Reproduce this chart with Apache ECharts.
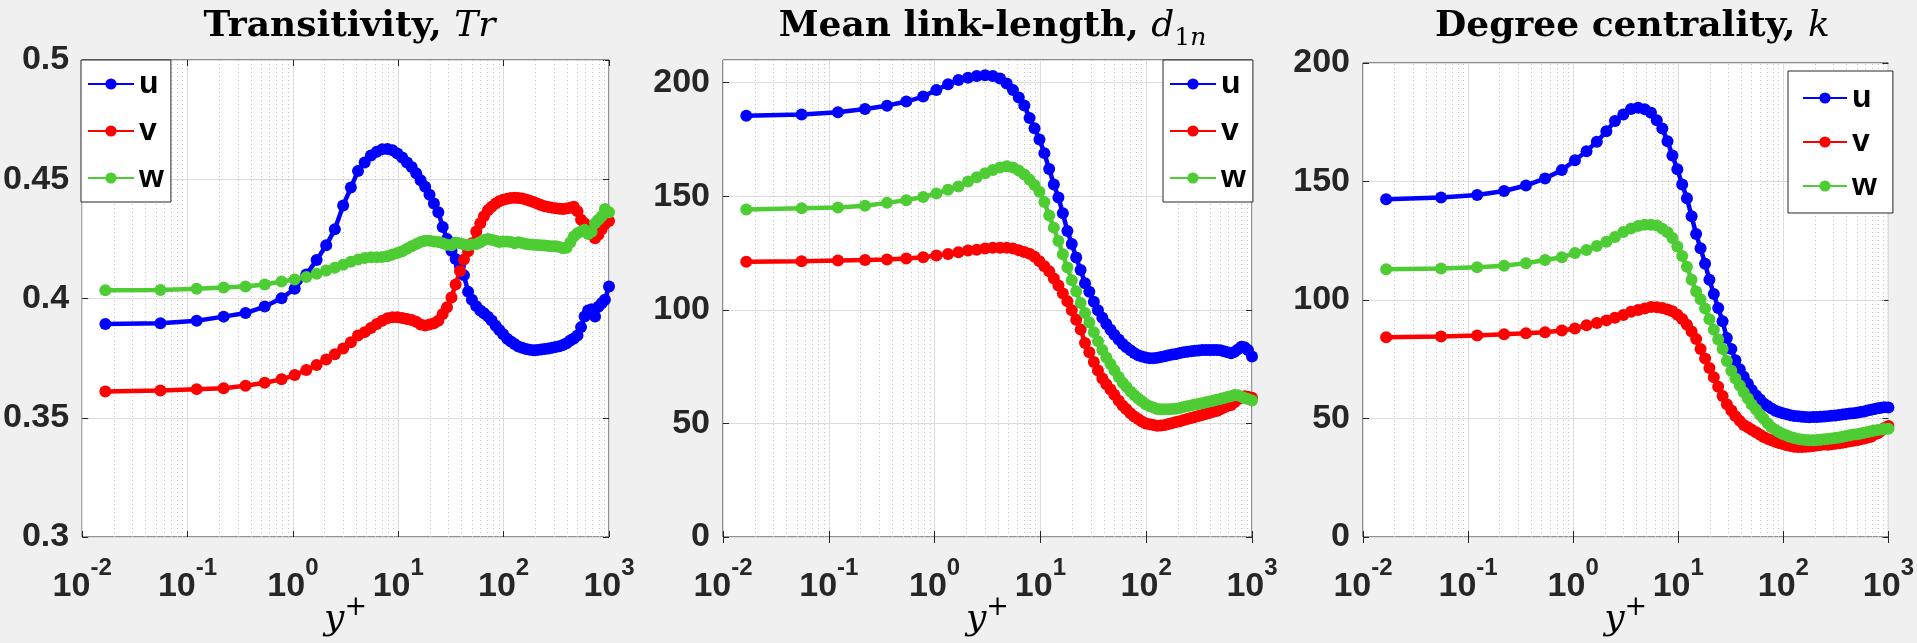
<!DOCTYPE html>
<html>
<head>
<meta charset="utf-8">
<script src="https://cdn.jsdelivr.net/npm/echarts@6/dist/echarts.min.js"></script>
<style>
html, body { margin: 0; padding: 0; background: #f0f0f0; }
#chart { width: 1917px; height: 643px; }
</style>
</head>
<body>
<div id="chart"></div>
<script>
// wall distance y+ (same grid for every panel)
const yPlus = [0.0166, 0.0553, 0.122, 0.22, 0.355, 0.54, 0.78, 1.04, 1.34, 1.68,
    2.07, 2.5, 3.0, 3.55, 4.15, 4.8, 5.5, 6.25, 7.05, 7.9,
    8.8, 9.8, 10.9, 12.1, 13.4, 14.8, 16.3, 18, 19.8, 21.8,
    24, 26.4, 29, 32, 35, 38.5, 42, 46, 50, 55,
    60, 65, 71, 77, 84, 91, 99, 108, 117, 127,
    138, 150, 163, 177, 192, 208, 226, 245, 266, 288,
    312, 338, 366, 396, 429, 464, 502, 543, 587, 634,
    684, 737, 793, 852, 915, 1000];

// Transitivity, Tr
const trU = [.3893, .3896, .3907, .3924, .3939, .3966, .4001, .4041, .4101, .4161,
    .4223, .4290, .4390, .4465, .4535, .4570, .4600, .4615, .4626, .4627,
    .4622, .4608, .4591, .4570, .4551, .4525, .4496, .4469, .4435, .4398,
    .4362, .4300, .4250, .4200, .4166, .4136, .4098, .4028, .3995, .3968,
    .3950, .3938, .3924, .3908, .3886, .3868, .3850, .3831, .3820, .3809,
    .3799, .3793, .3788, .3785, .3783, .3784, .3786, .3788, .3790, .3793,
    .3797, .3800, .3805, .3812, .3824, .3832, .3845, .3880, .3925, .3950,
    .3955, .3925, .3965, .3980, .3995, .4050];
const trV = [.3610, .3614, .3620, .3624, .3634, .3647, .3661, .3679, .3700, .3721,
    .3744, .3766, .3790, .3817, .3845, .3859, .3876, .3893, .3907, .3917,
    .3921, .3921, .3918, .3914, .3910, .3903, .3891, .3887, .3891, .3896,
    .3907, .3935, .3963, .4004, .4059, .4115, .4163, .4198, .4232, .4281,
    .4315, .4345, .4370, .4385, .4398, .4408, .4414, .4418, .4421, .4422,
    .4421, .4419, .4415, .4410, .4405, .4398, .4392, .4387, .4384, .4381,
    .4378, .4376, .4375, .4377, .4380, .4385, .4366, .4330, .4315, .4288,
    .4270, .4253, .4267, .4290, .4312, .4325];
const trW = [.4035, .4036, .4041, .4046, .4050, .4059, .4071, .4080, .4090, .4104,
    .4117, .4129, .4142, .4154, .4163, .4170, .4173, .4173, .4174, .4177,
    .4184, .4191, .4198, .4209, .4219, .4228, .4237, .4242, .4242, .4239,
    .4237, .4232, .4225, .4223, .4235, .4232, .4226, .4223, .4226, .4229,
    .4236, .4245, .4250, .4246, .4242, .4237, .4239, .4239, .4237, .4232,
    .4236, .4233, .4228, .4226, .4225, .4224, .4223, .4222, .4220, .4219,
    .4219, .4216, .4211, .4213, .4235, .4260, .4274, .4281, .4288, .4270,
    .4280, .4315, .4330, .4345, .4375, .4362];

// Mean link-length, d1n
const dU = [185.5, 186.0, 187.0, 188.4, 189.9, 191.7, 193.9, 196.8, 199.3, 201.2,
    202.2, 203.0, 203.3, 203.0, 201.9, 199.7, 196.8, 193.5, 190.0, 184.5,
    180.0, 175.0, 169.0, 162.0, 155.2, 149.5, 142.5, 134.7, 129.0, 123.0,
    117.5, 111.7, 108.0, 103.6, 99.8, 96.5, 93.8, 91.2, 89.0, 87.0,
    85.0, 83.5, 82.2, 81.0, 80.0, 79.5, 79.0, 78.7, 78.7, 78.9,
    79.2, 79.6, 80.0, 80.3, 80.6, 81.0, 81.3, 81.6, 81.8, 82.0,
    82.1, 82.3, 82.3, 82.3, 82.3, 82.3, 82.2, 81.8, 81.3, 80.9,
    81.5, 82.6, 83.8, 83.5, 82.3, 79.5];
const dV = [121.2, 121.4, 121.7, 121.9, 122.2, 122.6, 123.2, 123.9, 124.6, 125.4,
    126.1, 126.5, 127.0, 127.3, 127.3, 127.3, 127.0, 126.2, 125.5, 124.7,
    123.4, 121.4, 119.2, 117.0, 113.8, 110.7, 107.2, 103.8, 99.8, 95.6,
    91.3, 85.4, 81.3, 77.0, 73.3, 69.8, 67.2, 64.9, 62.6, 60.0,
    57.8, 56.2, 54.5, 53.1, 51.9, 50.9, 50.0, 49.6, 49.3, 49.0,
    49.1, 49.3, 49.8, 50.2, 50.6, 51.0, 51.5, 52.0, 52.4, 52.8,
    53.3, 53.7, 54.2, 54.6, 55.1, 55.5, 56.2, 57.0, 57.7, 58.1,
    59.3, 60.6, 61.5, 62.0, 61.8, 61.3];
const dW = [144.2, 144.7, 145.1, 145.8, 147.1, 148.3, 149.7, 151.2, 152.9, 154.3,
    156.5, 158.4, 160.1, 161.6, 162.7, 163.2, 162.7, 161.3, 159.6, 157.3,
    155.0, 152.0, 147.5, 141.5, 136.2, 130.3, 124.5, 118.6, 113.0, 108.2,
    103.0, 98.6, 94.4, 90.1, 86.2, 82.3, 79.0, 76.2, 73.4, 70.4,
    67.9, 66.1, 64.1, 62.5, 61.0, 59.8, 58.4, 57.6, 57.0, 56.4,
    56.2, 56.2, 56.2, 56.3, 56.5, 56.8, 57.2, 57.6, 57.9, 58.3,
    58.6, 58.9, 59.3, 59.6, 60.0, 60.4, 60.8, 61.2, 61.6, 62.0,
    62.5, 62.4, 61.8, 61.2, 60.7, 60.1];

// Degree centrality, k
const kU = [142.5, 143.2, 144.3, 146.0, 148.3, 151.3, 154.8, 159.0, 162.8, 166.8,
    171.2, 175.5, 178.3, 180.6, 181.1, 180.5, 179.0, 175.8, 172.4, 167.0,
    161.0, 155.2, 148.7, 142.9, 135.3, 127.8, 121.8, 115.3, 108.5, 102.5,
    96.6, 91.0, 84.0, 79.3, 74.6, 70.8, 67.6, 64.7, 62.0, 59.7,
    58.0, 56.3, 55.3, 54.2, 53.3, 52.7, 52.2, 51.8, 51.4, 51.1,
    50.9, 50.7, 50.6, 50.5, 50.6, 50.6, 50.7, 50.8, 51.0, 51.2,
    51.3, 51.5, 51.7, 51.9, 52.1, 52.2, 52.4, 52.7, 53.0, 53.4,
    53.7, 54.0, 54.3, 54.5, 54.7, 54.6];
const kV = [84.3, 84.6, 85.0, 85.5, 86.0, 86.4, 87.1, 88.0, 89.3, 90.3,
    91.4, 92.5, 93.7, 95.0, 95.8, 96.4, 97.0, 96.9, 96.6, 96.0,
    95.3, 93.8, 92.0, 89.6, 86.7, 83.5, 79.3, 75.3, 71.3, 67.4,
    63.4, 59.5, 56.0, 53.4, 51.0, 49.0, 47.3, 46.3, 45.3, 44.2,
    43.1, 42.2, 41.4, 40.8, 40.2, 39.7, 39.2, 38.7, 38.4, 38.1,
    38.0, 38.0, 38.1, 38.2, 38.4, 38.6, 38.8, 39.0, 38.9, 39.1,
    39.3, 39.6, 39.8, 40.1, 40.4, 40.6, 40.8, 41.2, 41.6, 42.0,
    42.3, 43.2, 43.8, 44.8, 46.0, 46.8];
const kW = [113.0, 113.3, 113.8, 114.5, 115.5, 116.9, 118.0, 119.8, 121.1, 122.8,
    124.6, 126.6, 128.7, 130.2, 131.2, 131.8, 131.7, 131.4, 130.1, 128.6,
    126.2, 122.6, 118.6, 114.0, 108.5, 103.6, 100.3, 96.4, 91.9, 87.4,
    83.3, 79.3, 74.3, 70.1, 66.9, 63.9, 61.1, 58.4, 55.9, 53.8,
    51.6, 49.9, 47.9, 46.3, 45.2, 44.3, 43.5, 42.8, 42.2, 41.8,
    41.4, 41.1, 40.9, 40.8, 40.8, 40.9, 41.0, 41.2, 41.4, 41.6,
    41.8, 42.0, 42.3, 42.6, 42.9, 43.2, 43.4, 43.7, 44.0, 44.3,
    44.6, 44.9, 45.2, 45.4, 45.6, 45.7];

const seriesNames = ['u', 'v', 'w'];
const seriesColors = ['#0000ff', '#ff0000', '#4dcc33'];
const panelData = [[trU, trV, trW], [dU, dV, dW], [kU, kV, kW]];
const yRanges = [[0.3, 0.5, 0.05], [0, 210, 50], [0, 200, 50]];
const titleTexts = [
    '{b|Transitivity, }{i|Tr}',
    '{b|Mean link-length, }{i|d}{s|1}{si|n}',
    '{b|Degree centrality, }{i|k}'
];

// minor log grid lines 2..9 x 10^n
const minorX = [];
for (let e = -2; e < 3; e++) {
    for (let k = 2; k < 10; k++) {
        minorX.push(+(k * Math.pow(10, e)).toPrecision(3));
    }
}

const grids = [
    { left: 80, top: 60, width: 529, height: 482 },
    { left: 723, top: 60, width: 529, height: 480 },
    { left: 1363, top: 63, width: 529, height: 480 }
];
const legendPos = [
    { left: 81, top: 60, padding: [8, 7, 8, 6], itemGap: 15, itemWidth: 46 },
    { left: 1163, top: 60, padding: [8, 7, 8, 6], itemGap: 15, itemWidth: 46 },
    { left: 1788, top: 71, padding: [11, 16, 11, 14], itemGap: 12, itemWidth: 44 }
];

const axisColor = '#262626';
const sans = 'Liberation Sans';
const serif = 'DejaVu Serif';

const chart = echarts.init(document.getElementById('chart'));

const xAxes = [];
const yAxes = [];
grids.forEach((g, i) => {
    xAxes.push({
        type: 'log',
        logBase: 10,
        gridIndex: i,
        min: 0.01,
        max: 1000,
        axisLine: { show: false },
        axisTick: { show: true, inside: true, length: 6, lineStyle: { color: axisColor } },
        splitLine: { show: true, lineStyle: { color: '#dcdcdc', width: 1 } },
        axisLabel: {
            margin: 19,
            showMinLabel: true,
            showMaxLabel: true,
            formatter: (v) => '{m|10}{e|' + Math.round(Math.log10(v)) + '}',
            rich: {
                m: { fontFamily: sans, fontWeight: 'bold', fontSize: 34, color: axisColor, lineHeight: 48, verticalAlign: 'bottom' },
                e: { fontFamily: sans, fontWeight: 'bold', fontSize: 24, color: axisColor, lineHeight: 20, verticalAlign: 'top' }
            }
        },
        name: '{y|y}{p|+}',
        nameLocation: 'middle',
        nameGap: 57,
        nameMoveOverlap: false,
        nameTextStyle: {
            rich: {
                y: { fontFamily: serif, fontStyle: 'italic', fontSize: 36, color: '#000', lineHeight: 44, verticalAlign: 'bottom' },
                p: { fontFamily: serif, fontSize: 27, color: '#000', lineHeight: 22, verticalAlign: 'top' }
            }
        }
    });
    const r = yRanges[i];
    yAxes.push({
        type: 'value',
        gridIndex: i,
        min: r[0],
        max: r[1],
        interval: r[2],
        axisLine: { show: false },
        axisTick: { show: true, inside: true, length: 6, lineStyle: { color: axisColor } },
        splitLine: { show: true, lineStyle: { color: '#dcdcdc', width: 1 } },
        axisLabel: {
            margin: 13,
            showMaxLabel: i !== 1,
            fontFamily: sans,
            fontWeight: 'bold',
            fontSize: 34,
            color: axisColor
        }
    });
});
// top / right edges of the box carry ticks too
grids.forEach((g, i) => {
    xAxes.push({
        type: 'log', logBase: 10, gridIndex: i, position: 'top', min: 0.01, max: 1000,
        axisLine: { show: false }, axisLabel: { show: false }, splitLine: { show: false },
        axisTick: { show: true, inside: true, length: 6, lineStyle: { color: axisColor } }
    });
    const r = yRanges[i];
    yAxes.push({
        type: 'value', gridIndex: i, position: 'right', min: r[0], max: r[1], interval: r[2],
        axisLine: { show: false }, axisLabel: { show: false }, splitLine: { show: false },
        axisTick: { show: true, inside: true, length: 6, lineStyle: { color: axisColor } }
    });
});

const series = [];
panelData.forEach((vals, gi) => {
    vals.forEach((arr, si) => {
        const s = {
            name: seriesNames[si],
            type: 'line',
            xAxisIndex: gi,
            yAxisIndex: gi,
            data: yPlus.map((x, j) => [x, arr[j]]),
            symbol: 'circle',
            symbolSize: 12,
            lineStyle: { color: seriesColors[si], width: 4.5 },
            itemStyle: { color: seriesColors[si] },
            emphasis: { disabled: true },
            silent: true,
            animation: false
        };
        if (si === 0) {
            s.markLine = {
                silent: true,
                z: 1,
                symbol: ['none', 'none'],
                label: { show: false },
                emphasis: { disabled: true },
                lineStyle: { color: '#c4c4c4', type: [1, 3], width: 1 },
                animation: false,
                data: minorX.map((v) => ({ xAxis: v }))
            };
        }
        series.push(s);
    });
});

const option = {
    backgroundColor: '#f0f0f0',
    animation: false,
    textStyle: { fontFamily: sans },
    title: grids.map((g, i) => ({
        text: titleTexts[i],
        left: g.left + g.width / 2,
        top: 4,
        textAlign: 'center',
        textStyle: {
            rich: {
                b: { fontFamily: serif, fontWeight: 'bold', fontSize: 36, color: '#000', lineHeight: 42, verticalAlign: 'top' },
                i: { fontFamily: serif, fontStyle: 'italic', fontWeight: 'normal', fontSize: 36, color: '#000', lineHeight: 42, verticalAlign: 'top' },
                s: { fontFamily: serif, fontWeight: 'normal', fontSize: 25, color: '#000', lineHeight: 16, verticalAlign: 'bottom' },
                si: { fontFamily: serif, fontStyle: 'italic', fontWeight: 'normal', fontSize: 25, color: '#000', lineHeight: 16, verticalAlign: 'bottom' }
            }
        }
    })),
    legend: legendPos.map((p) => ({
        orient: 'vertical',
        left: p.left,
        top: p.top,
        padding: p.padding,
        itemGap: p.itemGap,
        itemWidth: p.itemWidth,
        itemHeight: 14,
        data: seriesNames,
        selectedMode: false,
        backgroundColor: '#ffffff',
        borderColor: axisColor,
        borderWidth: 1,
        borderRadius: 0,
        textStyle: { fontFamily: sans, fontWeight: 'bold', fontSize: 32, color: '#000' }
    })),
    grid: grids.map((g) => ({
        left: g.left,
        top: g.top,
        width: g.width,
        height: g.height,
        show: true,
        backgroundColor: '#ffffff',
        borderColor: axisColor,
        borderWidth: 1
    })),
    xAxis: xAxes,
    yAxis: yAxes,
    series: series
};

chart.setOption(option);
</script>
</body>
</html>
